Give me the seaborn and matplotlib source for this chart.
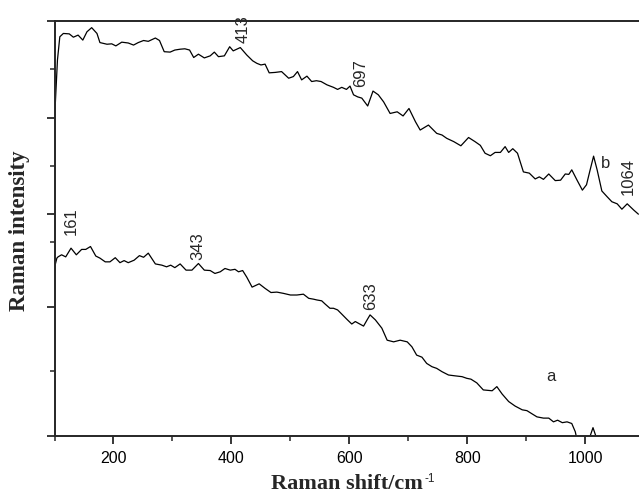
import pandas as pd
import matplotlib
matplotlib.use("Agg")
from matplotlib import pyplot as plt
import seaborn as sns

# spectrum a (lower trace)
shift_a = [100, 101, 104, 106, 112, 119, 128, 137, 146, 153, 161, 170, 177, 186, 194, 203, 211, 218,
           225, 235, 244, 251, 259, 271, 282, 290, 297, 304, 313, 323, 333, 344, 354, 364, 372, 381,
           389, 398, 406, 412, 419, 426, 435, 447, 457, 467, 477, 488, 500, 511, 522, 531, 539, 545,
           553, 559, 567, 573, 580, 587, 596, 604, 610, 615, 624, 630, 635, 644, 655, 664, 675, 686,
           698, 706, 714, 723, 731, 740, 748, 757, 768, 779, 791, 799, 806, 816, 827, 842, 850, 859,
           870, 881, 893, 901, 910, 918, 929, 938, 946, 953, 961, 969, 977, 983, 986, 994, 1003, 1008,
           1013, 1018, 1023, 1035, 1060, 1090]
intensity_a = [392, 411, 428, 431, 436, 431, 452, 436, 449, 449, 456, 433, 428, 419, 419, 429, 417, 422,
               417, 423, 434, 430, 440, 414, 411, 407, 411, 405, 414, 399, 399, 415, 399, 398, 391, 395,
               403, 399, 401, 395, 398, 382, 358, 366, 355, 345, 346, 343, 339, 339, 341, 331, 329, 327,
               325, 317, 307, 307, 303, 293, 280, 269, 275, 271, 264, 279, 291, 279, 259, 230, 226, 230,
               226, 214, 194, 189, 174, 166, 162, 154, 146, 144, 142, 138, 136, 127, 110, 108, 118, 100,
               82, 71, 62, 60, 52, 45, 42, 42, 33, 37, 31, 33, 29, 9, -11, -45, -12, -2,
               19, -2, -25, -40, -45, -50]

# spectrum b (upper trace)
shift_b = [100, 101, 105, 109, 115, 125, 132, 140, 148, 155, 163, 172, 177, 189, 197, 204, 214, 225,
           234, 242, 251, 259, 271, 278, 286, 296, 304, 313, 321, 329, 336, 344, 354, 364, 371, 378,
           388, 397, 403, 415, 426, 436, 443, 450, 457, 464, 474, 485, 497, 505, 512, 519, 528, 536,
           544, 552, 562, 573, 580, 587, 595, 601, 607, 614, 621, 631, 640, 649, 658, 669, 681, 691,
           701, 712, 720, 734, 748, 757, 765, 777, 789, 802, 813, 822, 830, 839, 847, 856, 864, 870,
           877, 885, 895, 905, 915, 922, 929, 938, 949, 958, 966, 972, 977, 986, 995, 1002, 1008, 1014,
           1020, 1028, 1037, 1045, 1054, 1062, 1071, 1082, 1090]
intensity_b = [760, 790, 906, 962, 970, 969, 961, 966, 954, 974, 984, 970, 948, 944, 945, 940, 949, 947,
               942, 948, 953, 951, 959, 953, 926, 925, 930, 932, 933, 930, 912, 920, 911, 916, 925, 914,
               916, 938, 928, 936, 918, 904, 898, 894, 896, 875, 876, 878, 862, 866, 878, 858, 867, 854,
               856, 854, 846, 840, 835, 840, 835, 843, 822, 817, 814, 795, 831, 822, 805, 777, 781, 771,
               789, 757, 737, 749, 729, 725, 717, 709, 699, 719, 709, 700, 681, 675, 683, 683, 697, 683,
               692, 681, 636, 633, 619, 624, 618, 631, 615, 616, 631, 630, 641, 616, 592, 605, 640, 674,
               641, 590, 576, 564, 559, 546, 559, 544, 534]

x_major = [200, 400, 600, 800, 1000]
x_minor = [100, 300, 500, 700, 900]
y_major = [0, 311, 534, 767, 1000]
y_minor = [156, 468, 651, 884]

sns.set_theme(style="ticks")
plt.rcParams['font.family'] = ['Liberation Sans', 'DejaVu Sans']

df = pd.concat([
    pd.DataFrame({'shift': shift_a, 'intensity': intensity_a, 'sample': 'a'}),
    pd.DataFrame({'shift': shift_b, 'intensity': intensity_b, 'sample': 'b'}),
])

fig = plt.figure(figsize=(6.39, 4.97), dpi=100)
ax = fig.add_axes([0.0853, 0.1237, 0.9147, 0.8340])

sns.lineplot(data=df, x='shift', y='intensity', units='sample', estimator=None, sort=False,
             color='black', lw=0.9, legend=False, ax=ax)

ax.set_xlim(100, 1091)
ax.set_ylim(0, 1000)
ax.set_xticks(x_major)
ax.set_xticks(x_minor, minor=True)
ax.set_yticks(y_major)
ax.set_yticks(y_minor, minor=True)
ax.set_yticklabels([])
ax.set_xlabel('')
ax.set_ylabel('')

for side in ['left', 'bottom', 'top']:
    ax.spines[side].set_linewidth(1.4)
ax.spines['right'].set_visible(False)
ax.tick_params(which='major', direction='out', length=5.5, width=1.1, labelsize=11.5, pad=5.5, colors='black')
ax.tick_params(which='minor', direction='out', length=3.5, width=1.1)
ax.tick_params(axis='x', which='both', top=False)

# peak annotations
for txt, x, y in [("161", 129, 484), ("343", 343, 423), ("413", 419, 947),
                  ("697", 619, 841), ("633", 636, 303), ("1064", 1073, 580)]:
    ax.text(x, y, txt, rotation=90, ha='center', va='bottom', fontsize=12)
ax.text(1034, 657, "b", ha='center', va='center', fontsize=12)
ax.text(941, 143, "a", ha='center', va='center', fontsize=12)

serif = ['Liberation Serif', 'DejaVu Serif']
fig.text(0.662, 0.006, "Raman shift/cm", ha='right', va='bottom',
         fontsize=16, fontweight='bold', family=serif)
fig.text(0.664, 0.036, "-1", ha='left', va='center', fontsize=8.5)
fig.text(0.031, 0.535, "Raman intensity", ha='center', va='center', rotation=90,
         fontsize=16.5, fontweight='bold', family=serif)

plt.savefig("out.png", dpi=100)
